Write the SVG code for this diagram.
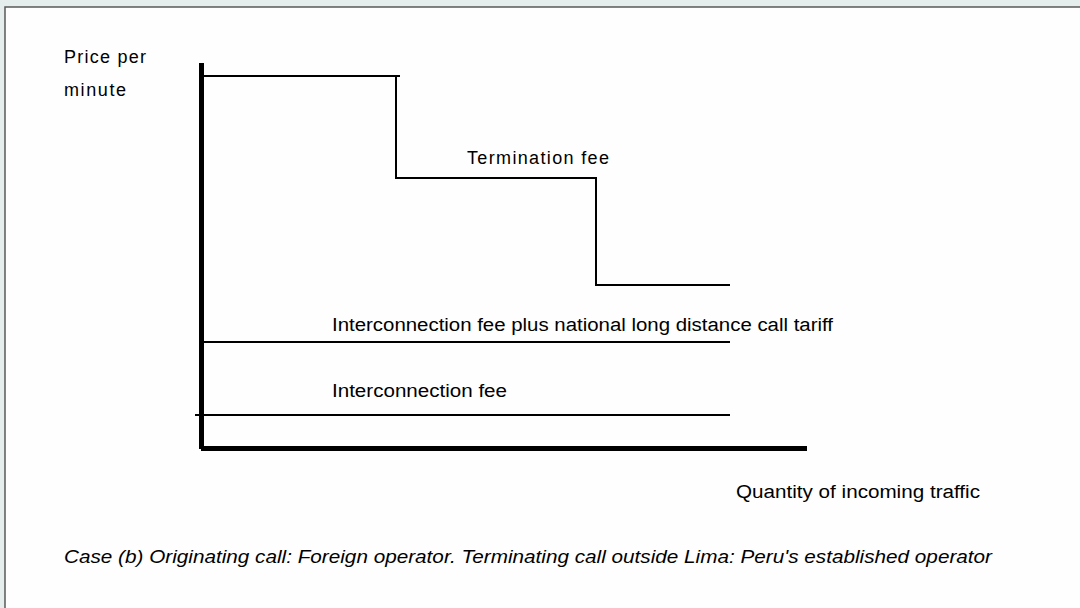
<svg xmlns="http://www.w3.org/2000/svg" width="1080" height="608" viewBox="0 0 1080 608">
<style>
.t{font-family:"Liberation Sans",Arial,sans-serif;font-size:18px;fill:#000}
.i{font-style:italic}
.thin{stroke:#000;stroke-width:2;fill:none}
.axis{stroke:#000;stroke-width:5;fill:none}
</style>
<rect x="0" y="0" width="1080" height="608" fill="#e5eeec"/>
<rect x="5" y="7" width="1080" height="610" fill="#fefefe" stroke="#5a5a5a" stroke-width="1.5"/>
<g id="connectors">
<path class="axis" d="M201.5 63 V449"/>
<path class="axis" d="M201 448.5 H807"/>
<path class="thin" d="M203 76 H400 M396 76 V178 H596 V285 H730"/>
<path class="thin" d="M202 342 H730"/>
<path class="thin" d="M195 415 H730"/>
</g>
<g id="ylabel"><text class="t" x="64" y="63" textLength="82" lengthAdjust="spacing">Price per</text><text class="t" x="64" y="96" textLength="62" lengthAdjust="spacing">minute</text></g>
<g id="termination"><text class="t" x="467" y="164" textLength="142" lengthAdjust="spacing">Termination fee</text></g>
<g id="icplus"><text class="t" x="332" y="331" textLength="501" lengthAdjust="spacingAndGlyphs">Interconnection fee plus national long distance call tariff</text></g>
<g id="ic"><text class="t" x="332" y="397" textLength="175" lengthAdjust="spacingAndGlyphs">Interconnection fee</text></g>
<g id="xlabel"><text class="t" x="736" y="498" textLength="244" lengthAdjust="spacingAndGlyphs">Quantity of incoming traffic</text></g>
<g id="caption"><text class="t i" x="64" y="563" textLength="928" lengthAdjust="spacingAndGlyphs">Case (b) Originating call: Foreign operator. Terminating call outside Lima: Peru's established operator</text></g>
</svg>
